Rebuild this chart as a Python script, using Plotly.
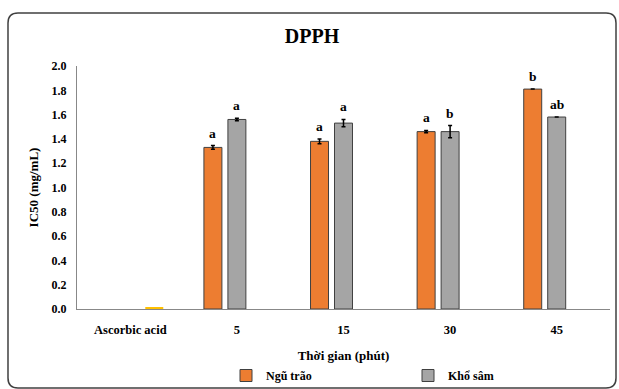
import plotly.graph_objects as go

categories = ["Ascorbic acid", "5", "15", "30", "45"]
ngu_trao = [None, 1.33, 1.38, 1.46, 1.81]
ngu_trao_err = [0, 0.015, 0.02, 0.01, 0]
kho_sam = [None, 1.56, 1.53, 1.46, 1.58]
kho_sam_err = [0, 0.01, 0.03, 0.05, 0]
ascorbic = [0.01, None, None, None, None]
ngu_trao_letters = ["", "a", "a", "a", "b"]
kho_sam_letters = ["", "a", "a", "b", "ab"]

FONT = "Times New Roman, Liberation Serif, serif"
W, H = 619, 389
L, R, T, B = 77, 9, 66, 80
PW, PH = W - L - R, H - T - B


def px2paper(x, y):
    return (x - L) / PW, (H - B - y) / PH


fig = go.Figure()
fig.add_trace(go.Bar(
    x=categories, y=ngu_trao, name="Ngũ trão",
    marker=dict(color="#ED7D31", line=dict(color="#404040", width=1)),
    error_y=dict(type="data", array=ngu_trao_err, color="black", thickness=1.5, width=2),
))
fig.add_trace(go.Bar(
    x=categories, y=kho_sam, name="Khổ sâm",
    marker=dict(color="#A5A5A5", line=dict(color="#404040", width=1)),
    error_y=dict(type="data", array=kho_sam_err, color="black", thickness=1.5, width=2),
))
fig.add_trace(go.Bar(
    x=categories, y=ascorbic, name="Ascorbic acid", showlegend=False,
    marker=dict(color="#FFC000", line=dict(width=0)),
))

annotations = []
for i, c in enumerate(categories):
    if ngu_trao_letters[i]:
        annotations.append(dict(x=i, y=ngu_trao[i] + ngu_trao_err[i], xref="x", yref="y",
                                text=ngu_trao_letters[i], showarrow=False, xshift=-24,
                                yanchor="bottom", yshift=3,
                                font=dict(family=FONT, size=13.5, color="black", weight="bold")))
    if kho_sam_letters[i]:
        annotations.append(dict(x=i, y=kho_sam[i] + kho_sam_err[i], xref="x", yref="y",
                                text=kho_sam_letters[i], showarrow=False, xshift=0,
                                yanchor="bottom", yshift=3,
                                font=dict(family=FONT, size=13.5, color="black", weight="bold")))

# rounded border
x0, y0, x1, y1, r = 8, 13, 616, 388, 10
def P(x, y):
    a, b = px2paper(x, y)
    return f"{a:.5f},{b:.5f}"
path = (f"M {P(x0 + r, y0)} L {P(x1 - r, y0)} Q {P(x1, y0)} {P(x1, y0 + r)} "
        f"L {P(x1, y1 - r)} Q {P(x1, y1)} {P(x1 - r, y1)} "
        f"L {P(x0 + r, y1)} Q {P(x0, y1)} {P(x0, y1 - r)} "
        f"L {P(x0, y0 + r)} Q {P(x0, y0)} {P(x0 + r, y0)} Z")

fig.update_layout(
    width=W, height=H,
    margin=dict(l=L, r=R, t=T, b=B, autoexpand=False),
    paper_bgcolor="white", plot_bgcolor="white",
    barmode="group", bargap=0.325, bargroupgap=0.25,
    title=dict(text="DPPH", x=312 / W, xanchor="center", y=1 - 36 / H, yanchor="middle",
               font=dict(family=FONT, size=20, color="black", weight="bold")),
    font=dict(family=FONT, color="black"),
    xaxis=dict(type="category", range=[-0.5, 4.5], showline=True, linecolor="#888888",
               linewidth=1, ticks="", showgrid=False, tickangle=0, automargin=False,
               tickfont=dict(family=FONT, size=12.5, color="black", weight="bold"),
               ticklabelstandoff=9,
               title=dict(text="Thời gian (phút)", standoff=14,
                          font=dict(family=FONT, size=13, color="black", weight="bold"))),
    yaxis=dict(range=[0, 2.0], dtick=0.2, tickformat=".1f", showline=True, linecolor="#888888",
               linewidth=1, ticks="", showgrid=False, zeroline=False, automargin=False,
               tickfont=dict(family=FONT, size=12, color="black", weight="bold"),
               ticklabelstandoff=7,
               title=dict(text="IC50 (mg/mL)", standoff=10,
                          font=dict(family=FONT, size=13, color="black", weight="bold"))),
    legend=dict(orientation="h", x=px2paper(226, 0)[0], xanchor="left",
                y=px2paper(0, 361)[1], yanchor="top",
                entrywidth=137, entrywidthmode="pixels",
                font=dict(family=FONT, size=12, color="black", weight="bold"),
                itemwidth=30, bgcolor="rgba(0,0,0,0)"),
    annotations=annotations,
    shapes=[dict(type="path", path=path, xref="paper", yref="paper",
                 line=dict(color="#404040", width=1.5), fillcolor="rgba(0,0,0,0)", layer="below")],
)

fig.write_html("out.html")
